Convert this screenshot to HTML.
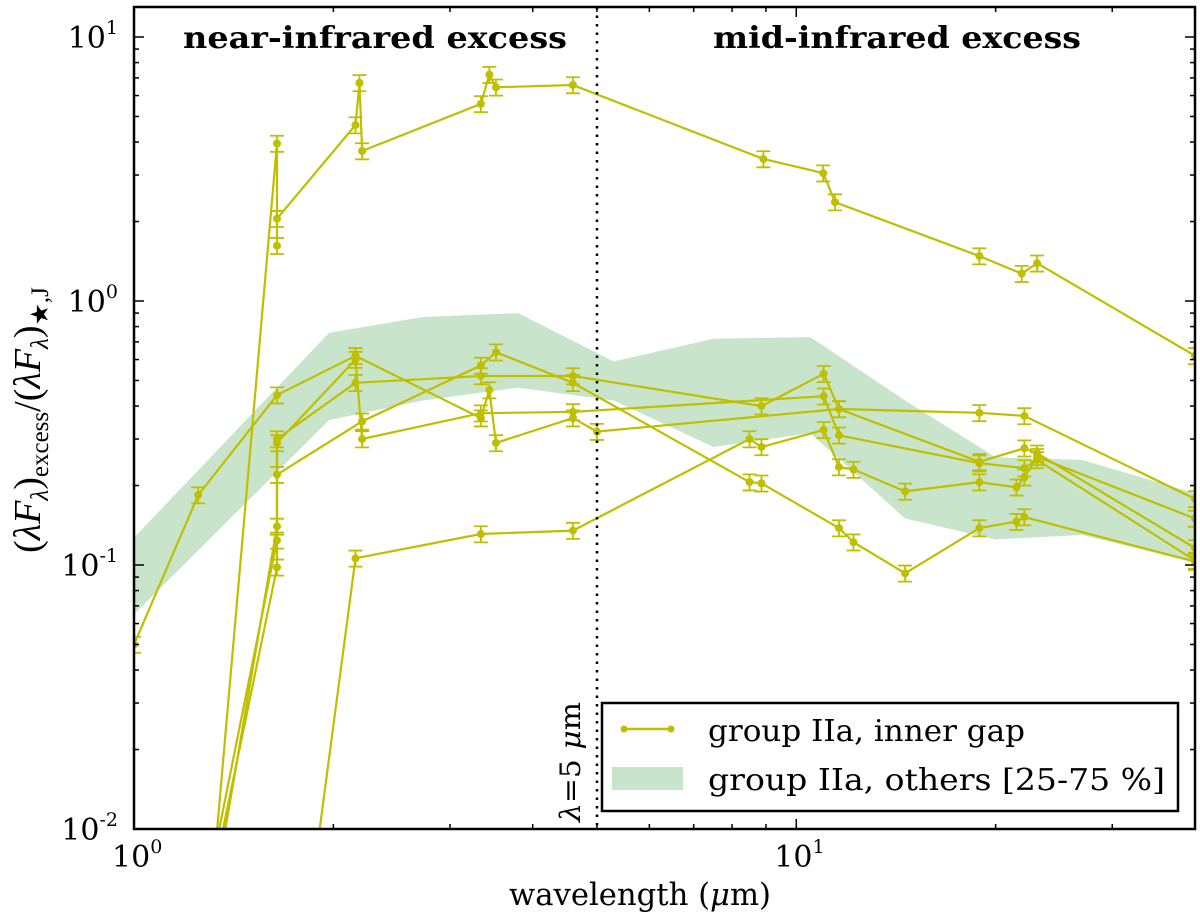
<!DOCTYPE html>
<html><head><meta charset="utf-8"><style>
html,body{margin:0;padding:0;background:#fff;overflow:hidden;width:1200px;height:920px}
svg{display:block}
text{font-family:"DejaVu Serif","Liberation Serif",serif;fill:#000}
</style></head><body>
<svg id="chart" width="1200" height="920" viewBox="0 0 1200 920" xmlns="http://www.w3.org/2000/svg">
<rect x="0" y="0" width="1200" height="920" fill="#fff"/>
<g id="band"></g>
<g id="series"></g>
<line x1="597" y1="7" x2="597" y2="829" stroke="#000" stroke-width="2.5" stroke-dasharray="2.5,6"/>
<g id="ticks"></g>
<rect x="134" y="7" width="1061" height="822" fill="none" stroke="#000" stroke-width="2.5"/>
<text x="375" y="48" font-size="30" font-weight="bold" text-anchor="middle" textLength="384" lengthAdjust="spacingAndGlyphs">near-infrared excess</text>
<text x="897" y="48" font-size="30" font-weight="bold" text-anchor="middle" textLength="368" lengthAdjust="spacingAndGlyphs">mid-infrared excess</text>
<text transform="translate(580,822) rotate(-90)" font-size="28" textLength="120" lengthAdjust="spacingAndGlyphs"><tspan font-style="italic">λ</tspan>=5 <tspan font-style="italic">μ</tspan>m</text>
<g>
<rect x="602" y="703" width="576" height="108" fill="#fff" stroke="#000" stroke-width="2.5"/>
<line x1="624" y1="729" x2="671" y2="729" stroke="#bfbf00" stroke-width="2.5"/>
<circle cx="624" cy="729" r="3.5" fill="#bfbf00"/>
<circle cx="671" cy="729" r="3.5" fill="#bfbf00"/>
<text x="708" y="741" font-size="30" textLength="317" lengthAdjust="spacingAndGlyphs">group IIa, inner gap</text>
<rect x="612" y="767" width="71" height="23" fill="#c8e5cb"/>
<text x="708" y="790" font-size="30" textLength="457" lengthAdjust="spacingAndGlyphs">group IIa, others [25-75 %]</text>
</g>
<text x="640" y="905" font-size="31" text-anchor="middle" textLength="262" lengthAdjust="spacingAndGlyphs">wavelength (<tspan font-style="italic">μ</tspan>m)</text>
<text transform="translate(40,420) rotate(-90)" font-size="38" text-anchor="middle" style="font-family:'Liberation Serif',serif;font-weight:normal">(<tspan font-style="italic">λF</tspan><tspan font-size="25" dy="8" font-style="italic">λ</tspan><tspan dy="-8">)</tspan><tspan font-size="25" dy="8">excess</tspan><tspan dy="-8">/(</tspan><tspan font-style="italic">λF</tspan><tspan font-size="25" dy="8" font-style="italic">λ</tspan><tspan dy="-8">)</tspan><tspan font-size="25" dy="8">★,J</tspan></text>
</svg>
<script>
// ---- data ----
const bandWave = [1.0, 1.97, 2.73, 3.80, 5.3, 7.5, 10.5, 14.6, 20.0, 27.0, 40.0];
const bandUpper = [0.127, 0.757, 0.87, 0.90, 0.59, 0.72, 0.73, 0.42, 0.256, 0.25, 0.187];
const bandLower = [0.065, 0.354, 0.42, 0.47, 0.42, 0.28, 0.316, 0.15, 0.125, 0.13, 0.102];
const s1Wave = [1.25, 1.644, 1.644, 1.644, 2.16, 2.19, 2.21, 3.34, 3.44, 3.52, 4.6, 8.92, 10.98, 11.44, 18.9, 21.9, 23.1, 40];
const s1Val = [0.0015, 3.95, 1.62, 2.05, 4.64, 6.7, 3.7, 5.58, 7.2, 6.45, 6.58, 3.45, 3.05, 2.37, 1.48, 1.27, 1.39, 0.62];
const s2Wave = [1.0, 1.25, 1.644, 2.16, 3.34, 3.44, 3.52, 4.6, 5.0, 11.6, 18.9, 22.1, 40];
const s2Val = [0.05, 0.184, 0.44, 0.62, 0.36, 0.46, 0.29, 0.36, 0.32, 0.39, 0.377, 0.367, 0.178];
const s3Wave = [1.25, 1.644, 1.644, 2.16, 3.34, 4.6, 8.86, 11.0, 11.6, 18.9, 22.1, 23.1, 40];
const s3Val = [0.0025, 0.14, 0.30, 0.49, 0.52, 0.52, 0.40, 0.53, 0.39, 0.246, 0.277, 0.265, 0.116];
const s4Wave = [1.25, 1.644, 1.644, 2.21, 3.34, 3.52, 4.6, 8.5, 8.86, 11.6, 12.2, 14.6, 18.9, 21.5, 22.1, 40];
const s4Val = [0.0035, 0.098, 0.22, 0.35, 0.57, 0.64, 0.49, 0.206, 0.204, 0.138, 0.122, 0.093, 0.138, 0.146, 0.152, 0.103];
const s5Wave = [1.25, 1.644, 1.644, 2.16, 2.21, 3.34, 4.6, 11.0, 11.6, 18.9, 22.1, 23.1, 40];
const s5Val = [0.004, 0.124, 0.29, 0.60, 0.30, 0.376, 0.38, 0.436, 0.31, 0.243, 0.233, 0.25, 0.104];
const s6Wave = [1.644, 2.16, 3.34, 4.6, 8.5, 8.86, 11.0, 11.6, 12.2, 14.6, 18.9, 21.5, 22.1, 23.1, 40];
const s6Val = [0.0006, 0.106, 0.131, 0.135, 0.30, 0.28, 0.325, 0.235, 0.23, 0.19, 0.206, 0.197, 0.215, 0.257, 0.15];
const relErr = 0.07;
const xTickMajor = [1, 10];
const yTickMajor = [10, 1, 0.1, 0.01];
const yTickExp = ["1", "0", "-1", "-2"];

// ---- axes ----
const X0 = 134, X1 = 1195, XMIN = 1, XMAX = 40;
const Y0 = 829, Y1 = 7, YDEC = 264, YREF = 301;
function xs(v){ return X0 + (Math.log10(v) - Math.log10(XMIN)) * (X1 - X0) / (Math.log10(XMAX) - Math.log10(XMIN)); }
function ys(v){ return YREF - Math.log10(v) * YDEC; }
const NS = "http://www.w3.org/2000/svg";
function mk(tag, attrs, parent){ const e = document.createElementNS(NS, tag); for (const k in attrs) e.setAttribute(k, attrs[k]); parent.appendChild(e); return e; }

const svg = document.getElementById('chart');
const defs = mk('defs', {}, svg);
const cp = mk('clipPath', {id:'plotclip'}, defs);
mk('rect', {x:X0, y:Y1, width:X1-X0, height:Y0-Y1}, cp);

const bandG = document.getElementById('band');
bandG.setAttribute('clip-path', 'url(#plotclip)');
let pts = [];
bandWave.forEach((w,i)=>pts.push(xs(w).toFixed(1)+','+ys(bandUpper[i]).toFixed(1)));
for (let i = bandWave.length-1; i >= 0; i--) pts.push(xs(bandWave[i]).toFixed(1)+','+ys(bandLower[i]).toFixed(1));
const poly = mk('polygon', {points: pts.join(' '), fill:'#c8e5cb'}, bandG);



const serG = document.getElementById('series');
serG.setAttribute('clip-path', 'url(#plotclip)');
const allSeries = [[s1Wave,s1Val],[s2Wave,s2Val],[s3Wave,s3Val],[s4Wave,s4Val],[s5Wave,s5Val],[s6Wave,s6Val]];
const C = '#bfbf00';
allSeries.forEach((s, si) => {
  const g = mk('g', {}, serG);
  
  
  const d = s[0].map((w,i)=>xs(w).toFixed(1)+','+ys(s[1][i]).toFixed(1)).join(' ');
  const pl = mk('polyline', {points:d, fill:'none', stroke:C, 'stroke-width':2.2}, g);
  
  
  s[0].forEach((w,i)=>{
    const x = xs(w), v = s[1][i];
    const ya = ys(v*(1+relErr)), yb = ys(v*(1-relErr));
    const eb = mk('path', {d:`M${x},${ya}V${yb}M${x-7},${ya}H${x+7}M${x-7},${yb}H${x+7}`, stroke:C, 'stroke-width':1.8, fill:'none'}, g);
    
    
    const c = mk('circle', {cx:x, cy:ys(v), r:4, fill:C}, g);
    
    
  });
});

const tg = document.getElementById('ticks');
function tick(x1,y1,x2,y2){ const t = mk('line',{x1,y1,x2,y2,stroke:'#000','stroke-width':1.5}, tg);   }
for (let dec = 1; dec <= 10; dec *= 10) for (let m = 1; m <= 9; m++) {
  const v = dec*m; if (v > XMAX) continue;
  const x = xs(v); const L = (m === 1) ? 10 : 5;
  tick(x, Y0, x, Y0-L); tick(x, Y1, x, Y1+L);
}
for (let e = -2; e <= 1; e++) for (let m = 1; m <= 9; m++) {
  const v = m*Math.pow(10,e); const y = ys(v); if (y < Y1) continue;
  const L = (m === 1) ? 10 : 5;
  tick(X0, y, X0+L, y); tick(X1, y, X1-L, y);
}
xTickMajor.forEach((v,i)=>{
  const t = mk('text', {x:xs(v)-22, y:867, 'font-size':30}, tg);
  
  
  t.textContent = '10';
  const sup = mk('tspan', {'font-size':19, dy:-14}, t);
  sup.textContent = String(i);
});
yTickMajor.forEach((v,i)=>{
  const t = mk('text', {x:118, y:ys(v)+11, 'font-size':30, 'text-anchor':'end'}, tg);
  
  
  t.textContent = '10';
  const sup = mk('tspan', {'font-size':19, dy:-14}, t);
  sup.textContent = yTickExp[i];
});
</script>
</body></html>
